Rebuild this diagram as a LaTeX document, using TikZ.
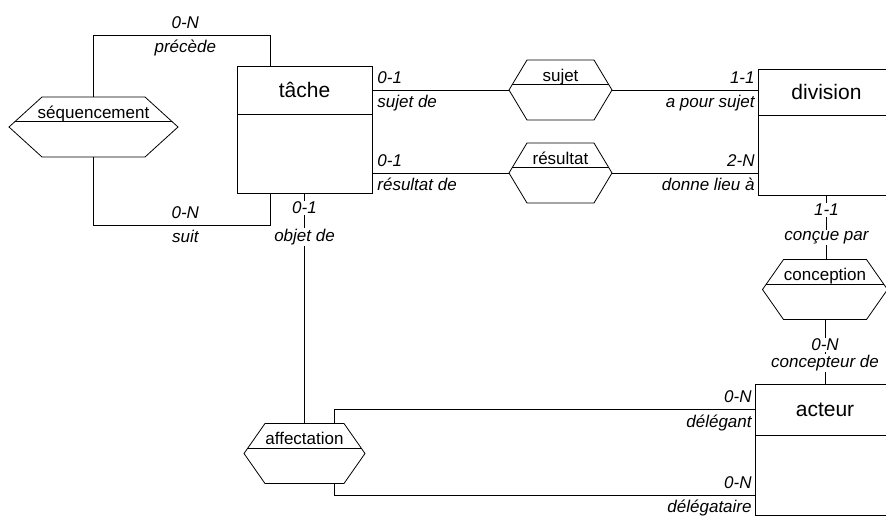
\documentclass[tikz,border=0pt]{standalone}
\usepackage{fontspec}
\setmainfont{Liberation Sans}
\usepackage{tikz}
\usetikzlibrary{positioning, calc}

% hexagon of a relation around node #1, chamfer #2
\newcommand{\hexrel}[2]{%
  \draw ($(#1.north west)+(#2,0)$) coordinate (#1-nw)
    -- ($(#1.north east)+(-#2,0)$) coordinate (#1-ne)
    -- (#1.east) -- ($(#1.south east)+(-#2,0)$)
    -- ($(#1.south west)+(#2,0)$) -- (#1.west) -- cycle;
  \draw ($(#1-nw)!0.82!(#1.west)$) -- ($(#1-ne)!0.82!(#1.east)$);
}

\begin{document}
\begin{tikzpicture}[
    x=1pt, y=-1pt, line width=0.8pt,
    ent/.style={rectangle, draw, inner sep=0, outer sep=0,
                minimum width=#1, font=\fontsize{21}{24}\selectfont},
    entbody/.style={rectangle, draw, inner sep=0, outer sep=0,
                minimum width=#1, minimum height=80pt},
    rel/.style={rectangle, inner sep=0, outer sep=0, minimum width=#1,
                text height=21pt, text depth=39pt,
                font=\fontsize{17}{20}\selectfont},
    lab/.style={inner sep=3pt, font=\fontsize{17}{20}\selectfont\itshape},
    vlab/.style={lab, fill=white, inner sep=1pt},
  ]
    \useasboundingbox (0,0) rectangle (886,517);
    \clip (0,0) rectangle (886,517);

    % Entities
    \node[ent=135pt, minimum height=48pt] (tache) at (304.5,90) {tâche};
    \node[entbody=135pt, minimum height=79pt, below=0pt of tache] (tacheb) {};
    \node[ent=137pt, minimum height=46pt] (div) at (826.5,92) {division};
    \node[entbody=137pt, below=0pt of div] (divb) {};
    \node[ent=140pt, minimum height=51pt] (act) at (825,409.5) {acteur};
    \node[entbody=140pt, below=0pt of act] (actb) {};

    % Relations
    \node[rel=169pt] (seq) at (93.5,127) {séquencement};
    \node[rel=103pt] (sujet) at (560.5,90) {sujet};
    \node[rel=103pt] (res) at (560.5,173) {résultat};
    \node[rel=125pt] (conc) at (825,289.5) {conception};
    \node[rel=121pt] (aff) at (304.5,453.5) {affectation};
    \hexrel{seq}{33}
    \hexrel{sujet}{18}
    \hexrel{res}{18}
    \hexrel{conc}{21}
    \hexrel{aff}{21}

    % séquencement loop
    \draw (seq.north) |- node[lab, pos=0.76, above=3pt] (precn) {0-N}
      node[lab, pos=0.76, below=2pt] (prec) {précède}
      ($(tache.north west)+(33,-31)$) -- ($(tache.north west)+(33,0)$);
    \draw (seq.south) |- node[lab, pos=0.76, above=3pt] (suitn) {0-N}
      node[lab, pos=0.76, below=2pt] (suit) {suit}
      ($(tacheb.south west)+(33,32)$) -- ($(tacheb.south west)+(33,0)$);

    % sujet
    \draw (tache.east) -- node[lab, pos=0, above right=3pt and 2pt] (sujc1) {0-1}
      node[lab, pos=0, below right=2pt and 2pt] (sujr1) {sujet de} (sujet.west);
    \draw (sujet.east) -- node[lab, pos=1, above left=3pt and 0pt] (sujc2) {1-1}
      node[lab, pos=1, below left=2pt and 0pt] (sujr2) {a pour sujet}
      (sujet.east -| div.west);

    % résultat
    \draw ($(tacheb.south east)+(0,-20)$) --
      node[lab, pos=0, above right=3pt and 2pt] (resc1) {0-1}
      node[lab, pos=0, below right=2pt and 2pt] (resr1) {résultat de} (res.west);
    \draw (res.east) -- node[lab, pos=1, above left=3pt and 0pt] (resc2) {2-N}
      node[lab, pos=1, below left=2pt and 0pt] (resr2) {donne lieu à}
      (res.east -| divb.west);

    % conception
    \draw (divb.south) -- node[vlab, pos=0.23] (concc1) {1-1}
      node[vlab, pos=0.66] (concr1) {conçue par} (conc.north -| divb.south);
    \draw (conc.south) -- node[vlab, pos=0.39] (concc2) {0-N}
      node[vlab, pos=0.67] (concr2) {concepteur de} (act.north);

    % affectation
    \draw (tacheb.south) -- node[vlab, pos=0.065] (affc1) {0-1}
      node[vlab, pos=0.19] (affr1) {objet de} (aff.north);
    \draw (act.west) -| node[lab, pos=0, above left=3pt and 0pt] (affc2) {0-N}
      node[lab, pos=0, below left=2pt and 0pt] (affr2) {délégant}
      ($(aff.north east)+(-31,0)$);
    \draw ($(actb.south west)+(0,-20)$) -|
      node[lab, pos=0, above left=3pt and 0pt] (affc3) {0-N}
      node[lab, pos=0, below left=2pt and 0pt] (affr3) {délégataire}
      ($(aff.south east)+(-31,0)$);
\end{tikzpicture}
\end{document}
